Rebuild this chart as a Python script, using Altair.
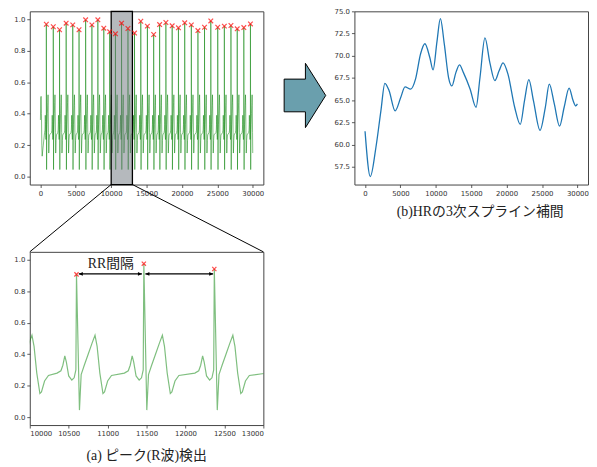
import altair as alt
import pandas as pd

# ---------------- data ----------------
# R-peak positions (samples) and heights of the ECG (panel a, top-left)
peak_t = [840, 1820, 2706, 3639, 4572, 5459, 6392, 7278, 8118, 8958,
          9790, 10600, 11465, 12370, 13297, 14183, 15117, 16003, 16843, 17729,
          18616, 19502, 20389, 21322, 22255, 23188, 24074, 25054, 25987, 26920,
          27807, 28740, 29673]
peak_v = [0.968, 0.952, 0.933, 0.975, 0.964, 0.933, 0.996, 0.964, 0.996, 0.943,
          0.920, 0.907, 0.975, 0.941, 0.912, 0.987, 0.956, 0.903, 0.966, 0.979,
          0.958, 0.945, 0.977, 0.964, 0.928, 0.949, 0.989, 0.949, 0.956, 0.960,
          0.939, 0.947, 0.970]

# one heart-beat: offsets from the R peak and values
pre_off = [-250, -200, -175, -150, -130, -100, -60, -30, -8]
pre_val = [0.280, 0.295, 0.330, 0.390, 0.350, 0.262, 0.236, 0.250, 0.300]
post_off = [38, 60, 100, 150, 200, 238, 265, 300, 340, 360, 400, 450]
post_val = [0.045, 0.270, 0.330, 0.400, 0.470, 0.520, 0.450, 0.280, 0.150, 0.160, 0.230, 0.265]

# start / end of the record
start_t = [0, 60, 100, 150, 200, 250]
start_v = [0.36, 0.50, 0.51, 0.40, 0.20, 0.13]
end_t = [30000]
end_v = [0.15]

# HR cubic-spline curve (panel b)
hr_t = [0, 746, 1540, 2240, 2800, 3400, 4250, 5040, 5650, 6440, 7140, 7840,
        8450, 9150, 9610, 10170, 10640, 11200, 11800, 12270, 12830, 13340,
        13900, 14840, 15680, 16240, 16940, 17640, 18340, 18940, 19500, 20200,
        21140, 21930, 22530, 23140, 23790, 24720, 25470, 26030, 26730, 27480,
        28130, 28830, 29390, 29770, 30000]
hr_v = [61.5, 56.4, 59.7, 63.8, 66.9, 66.06, 63.8, 65.3, 66.5, 66.25, 67.4, 70.2,
        71.35, 69.8, 68.4, 71.65, 74.18, 71.3, 67.55, 66.6, 68.1, 68.97,
        68.1, 66.25, 64.2, 67.55, 72.0, 69.2, 67.2, 68.3, 69.2, 67.9,
        64.2, 62.27, 64.95, 67.3, 64.95, 61.6, 64.2, 66.8, 64.6, 62.08,
        64.2, 66.36, 64.95, 64.35, 64.58]

# RR-interval arrows (panel a, bottom)
arrow_start = [10630, 11485]
arrow_end = [11440, 12355]
arrow_y = [0.91, 0.91]
rr_label = ["RR間隔"]
rr_label_t = [11040]
rr_label_v = [0.975]

# zoom window
zoom_from = [10000]
zoom_to = [13000]

caption_a = ["(a) ピーク(R波)検出"]
caption_b = ["(b)HRの3次スプライン補間"]

# ---------------- build tables ----------------
rows = list(zip(start_t, start_v))
for pt, pv in zip(peak_t, peak_v):
    rows += [(pt + o, v) for o, v in zip(pre_off, pre_val)]
    rows.append((pt, pv))
    rows += [(pt + o, v) for o, v in zip(post_off, post_val)]
rows += list(zip(end_t, end_v))
ecg = pd.DataFrame(rows, columns=["t", "v"])
ecg = ecg[(ecg.t >= 0) & (ecg.t <= 30000)].sort_values("t").reset_index(drop=True)
peaks = pd.DataFrame({"t": peak_t, "v": peak_v})
hr = pd.DataFrame({"t": hr_t, "v": hr_v})

W, H = 236, 175
HSPACE, VSPACE = 92, 68
XDOM = [-1500, 31500]
GREEN = "green"
SERIF = "Liberation Serif, Noto Sans CJK JP"
XMARK = "M-1,-1L1,1M-1,1L1,-1"

xs_full = alt.Scale(domain=XDOM, nice=False, zero=False)
x_ticks = [0, 5000, 10000, 15000, 20000, 25000, 30000]
y_ecg = alt.Scale(domain=[-0.05, 1.05], nice=False, zero=False)
y_ticks = [0.0, 0.2, 0.4, 0.6, 0.8, 1.0]
zs = alt.Scale(domain=[10000, 13000], nice=False, zero=False)
z_ticks = [10000, 10500, 11000, 11500, 12000, 12500, 13000]

ax_x_full = alt.Axis(values=x_ticks, title=None, format="d")
ax_y_ecg = alt.Axis(values=y_ticks, title=None, format=".1f")
ax_x_zoom = alt.Axis(values=z_ticks, title=None, format="d")


def XA(field):
    return alt.X(field, scale=xs_full, axis=ax_x_full)


def YE(field):
    return alt.Y(field, scale=y_ecg, axis=ax_y_ecg)


def XZ(field):
    return alt.X(field, scale=zs, axis=ax_x_zoom)


# ---------------- panel A : full ECG ----------------
a_line = alt.Chart(ecg).mark_line(color=GREEN, opacity=0.5, strokeWidth=1).encode(
    x=XA("t:Q"), y=YE("v:Q"))
a_rect = alt.Chart(pd.DataFrame({"t": zoom_from, "b": zoom_to})).mark_rect(
    fill="#6b737c", fillOpacity=0.5, stroke="black", strokeWidth=1.3
).encode(x=XA("t:Q"), x2="b:Q", y=alt.value(0), y2=alt.value(H))
a_pts = alt.Chart(peaks).mark_point(shape=XMARK, size=22, color="red", strokeWidth=1.2).encode(
    x=XA("t:Q"), y=YE("v:Q"))
A = alt.layer(a_line, a_rect, a_pts).properties(width=W, height=H)

# ---------------- panel B : HR spline ----------------
b_line = alt.Chart(hr).mark_line(color="#1f77b4", strokeWidth=1.3, interpolate="monotone").encode(
    x=XA("t:Q"),
    y=alt.Y("v:Q", scale=alt.Scale(domain=[55.5, 75.0], nice=False, zero=False),
            axis=alt.Axis(values=[57.5, 60, 62.5, 65, 67.5, 70, 72.5, 75], format=".1f", title=None)),
)
b_cap = alt.Chart(pd.DataFrame({"c": caption_b})).mark_text(
    font=SERIF, fontSize=14, color="#222", align="center", baseline="middle"
).encode(text="c:N", x=alt.value(W / 2 + 9), y=alt.value(203))
ARROW = "M-0.646,-0.508L0.015,-0.508L0.015,-1L0.646,0L0.015,1L0.015,0.508L-0.646,0.508Z"
b_arrow = alt.Chart(pd.DataFrame({"k": [0]})).mark_point(
    shape=ARROW, size=4225, filled=True, fill="#6a9fad", fillOpacity=1,
    stroke="black", strokeWidth=1, opacity=1
).encode(x=alt.value(-50), y=alt.value(85))
B = alt.layer(b_line, b_cap, b_arrow).properties(width=W, height=H)

# ---------------- panel C : zoom ----------------
ecg_z = ecg[(ecg.t >= 9500) & (ecg.t <= 13500)]
peaks_z = peaks[(peaks.t >= 10000) & (peaks.t <= 13000)]
c_line = alt.Chart(ecg_z).mark_line(color=GREEN, opacity=0.5, strokeWidth=1.2, clip=True).encode(
    x=XZ("t:Q"), y=YE("v:Q"))
c_pts = alt.Chart(peaks_z).mark_point(shape=XMARK, size=18, color="red", strokeWidth=1.2).encode(
    x=XZ("t:Q"), y=YE("v:Q"))
arr = pd.DataFrame({"t": arrow_start, "e": arrow_end, "v": arrow_y})
c_rule = alt.Chart(arr).mark_rule(color="black", strokeWidth=1.3).encode(
    x=XZ("t:Q"), x2="e:Q", y=YE("v:Q"))
c_head_l = alt.Chart(arr).mark_point(shape="M0,0L2,-0.9L2,0.9Z", size=16, filled=True,
                                     color="black", opacity=1).encode(x=XZ("t:Q"), y=YE("v:Q"))
c_head_r = alt.Chart(arr).mark_point(shape="M0,0L-2,-0.9L-2,0.9Z", size=16, filled=True,
                                     color="black", opacity=1).encode(x=XZ("e:Q"), y=YE("v:Q"))
c_lab = alt.Chart(pd.DataFrame({"t": rr_label_t, "v": rr_label_v, "c": rr_label})).mark_text(
    font=SERIF, fontSize=14, color="#222", align="center", baseline="middle"
).encode(x=XZ("t:Q"), y=YE("v:Q"), text="c:N")
c_cap = alt.Chart(pd.DataFrame({"c": caption_a})).mark_text(
    font=SERIF, fontSize=14, color="#222", align="center", baseline="middle"
).encode(text="c:N", x=alt.value(W / 2), y=alt.value(206))

# connector lines from the grey window (panel A) to panel C
px0 = (zoom_from[0] - XDOM[0]) / (XDOM[1] - XDOM[0]) * W
px1 = (zoom_to[0] - XDOM[0]) / (XDOM[1] - XDOM[0]) * W
c_conn1 = alt.Chart(pd.DataFrame({"k": [0]})).mark_rule(color="black", strokeWidth=1).encode(
    x=alt.value(px0), y=alt.value(-VSPACE), x2=alt.value(0), y2=alt.value(0))
c_conn2 = alt.Chart(pd.DataFrame({"k": [0]})).mark_rule(color="black", strokeWidth=1).encode(
    x=alt.value(px1), y=alt.value(-VSPACE), x2=alt.value(W), y2=alt.value(0))

C = alt.layer(c_line, c_rule, c_head_l, c_head_r, c_pts, c_lab, c_cap, c_conn1, c_conn2).properties(
    width=W, height=H)

chart = alt.concat(A, B, C, columns=2, spacing=alt.RowColnumber(row=VSPACE, column=HSPACE),
                   bounds="flush").resolve_scale(x="independent", y="independent").properties(
    padding={"left": 5, "top": -4, "right": 0, "bottom": 0},
    background="white",
).configure_view(stroke="#444", strokeWidth=1).configure_axis(
    grid=False, domain=False, labelFont="DejaVu Sans", labelFontSize=7, labelColor="#333",
    tickColor="#333", tickSize=3, tickWidth=0.8, labelPadding=2, labelOverlap=False
)

chart.save("out.html", embed_options={"renderer": "svg", "actions": False})
